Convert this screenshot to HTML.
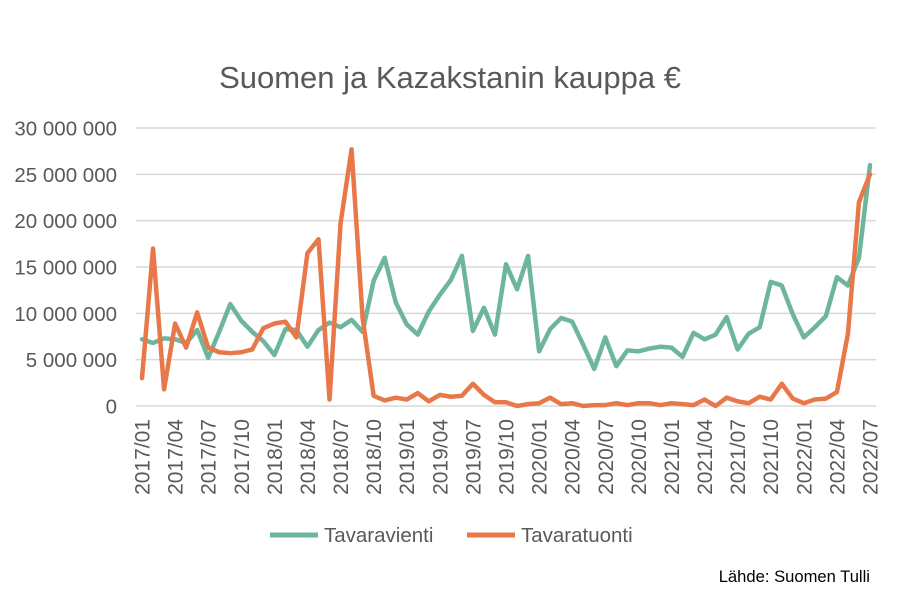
<!DOCTYPE html>
<html><head><meta charset="utf-8"><style>
body{margin:0;background:#fff;font-family:"Liberation Sans",sans-serif}
</style></head><body>
<svg id="c" width="900" height="600" xmlns="http://www.w3.org/2000/svg">
<rect width="900" height="600" fill="#fff"/>
<text x="450" y="88" text-anchor="middle" font-size="31" fill="#595959">Suomen ja Kazakstanin kauppa €</text>
<g id="grid"></g><g id="ylab"></g><g id="xlab"></g><g id="lines"></g>
<g>
<line x1="270" y1="535" x2="318" y2="535" stroke="#6db59b" stroke-width="5"/>
<text x="324" y="542" font-size="20.5" fill="#595959">Tavaravienti</text>
<line x1="467" y1="535" x2="515" y2="535" stroke="#e8784a" stroke-width="5"/>
<text x="521" y="542" font-size="20.5" fill="#595959">Tavaratuonti</text>
</g>
<text x="870" y="582" text-anchor="end" font-size="16.6" fill="#000">Lähde: Suomen Tulli</text>
</svg>
<script>
const vienti=[7.2,6.8,7.3,7.2,6.8,8.2,5.2,8.0,11.0,9.2,8.0,7.0,5.5,8.3,8.2,6.4,8.2,9.0,8.5,9.3,8.0,13.5,16.0,11.2,8.8,7.7,10.2,12.0,13.6,16.2,8.1,10.6,7.7,15.3,12.6,16.2,5.9,8.3,9.5,9.1,6.6,4.0,7.4,4.3,6.0,5.9,6.2,6.4,6.3,5.3,7.9,7.2,7.7,9.6,6.1,7.8,8.5,13.4,13.0,9.9,7.4,8.5,9.7,13.9,13.0,16.0,26.0];
const tuonti=[3.0,17.0,1.8,8.9,6.3,10.1,6.3,5.8,5.7,5.8,6.1,8.4,8.9,9.1,7.4,16.5,18.0,0.7,19.7,27.7,9.5,1.1,0.6,0.9,0.7,1.4,0.5,1.2,1.0,1.1,2.4,1.2,0.4,0.4,0.0,0.2,0.3,0.9,0.2,0.3,0.0,0.1,0.1,0.3,0.1,0.3,0.3,0.1,0.3,0.2,0.1,0.7,0.0,0.9,0.5,0.3,1.0,0.7,2.4,0.8,0.3,0.7,0.8,1.5,7.8,22.0,25.0];
const yTicks=[0,5,10,15,20,25,30];
const yTickLabels=["0","5 000 000","10 000 000","15 000 000","20 000 000","25 000 000","30 000 000"];
const startYear=2017, startMonth=1;
const NS="http://www.w3.org/2000/svg";
const x0=142,x1=870,y0=406,y1=128;
const xs=i=>x0+(x1-x0)*i/(vienti.length-1);
const ys=v=>y0-(y0-y1)*v/30;
function mk(t,a,p){const e=document.createElementNS(NS,t);for(const k in a)e.setAttribute(k,a[k]);p.appendChild(e);return e;}
const grid=document.getElementById('grid'),yl=document.getElementById('ylab'),xl=document.getElementById('xlab'),ln=document.getElementById('lines');
yTicks.forEach((t,k)=>{
 const g=mk('line',{x1:136,x2:876,y1:ys(t),y2:ys(t),stroke:'#d9d9d9','stroke-width':1.5},grid);
 
 
 const tx=mk('text',{x:117,y:ys(t)+7.5,'text-anchor':'end','font-size':20.5,fill:'#595959'},yl);
 tx.textContent=yTickLabels[k];
 
 
});
for(let i=0;i<vienti.length;i+=3){
 const m=(startMonth-1+i)%12+1, y=startYear+Math.floor((startMonth-1+i)/12);
 const x=xs(i);
 const tx=mk('text',{x:0,y:0,'text-anchor':'end','font-size':21,fill:'#595959',transform:`translate(${x+7.5},419) rotate(-90)`},xl);
 tx.textContent=y+'/'+String(m).padStart(2,'0');
 
 
}
function line(d,c,n){
 const p=mk('polyline',{points:d.map((v,i)=>xs(i)+','+ys(v)).join(' '),fill:'none',stroke:c,'stroke-width':4.5,'stroke-linejoin':'round','stroke-linecap':'round'},ln);
 
 
}
line(vienti,'#6db59b','series-tavaravienti');
line(tuonti,'#e8784a','series-tavaratuonti');
</script>
</body></html>
